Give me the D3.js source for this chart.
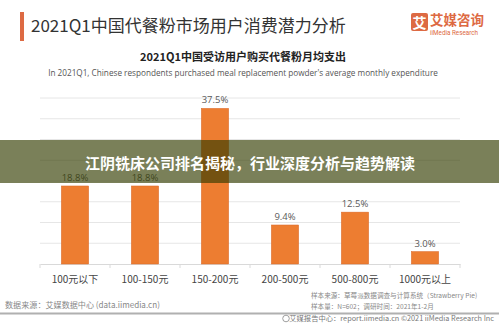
<!DOCTYPE html>
<html><head><meta charset="utf-8">
<script src="https://cdn.jsdelivr.net/npm/d3@7"></script>
<style>
html,body{margin:0;padding:0;background:#fff;}
svg{display:block;font-family:"Noto Sans CJK SC","Noto Sans",sans-serif;}
</style></head>
<body>
<svg id="c" width="499" height="325"></svg>
<script>
const categories = ["100元以下","100-150元","150-200元","200-500元","500-800元","1000元以上"];
const values = [18.8, 18.8, 37.5, 9.4, 12.5, 3.0];
const valueLabels = ["18.8%","18.8%","37.5%","9.4%","12.5%","3.0%"];
const yTicks = [0,5,10,15,20,25,30,35,40];

const mainTitle = "2021Q1中国代餐粉市场用户消费潜力分析";
const subTitle = "2021Q1中国受访用户购买代餐粉月均支出";
const enTitle = "In 2021Q1, Chinese respondents purchased meal replacement powder's average monthly expenditure";
const bannerText = "江阴铣床公司排名揭秘，行业深度分析与趋势解读";
const sourceLeft = "数据来源：艾媒数据中心 (data.iimedia.cn)";
const sampleSource = "样本来源：草莓派数据调查与计算系统（Strawberry Pie)";
const sampleSize = "样本量：N=602；调研时间：2021年1-2月";
const copyright = "艾媒报告中心：report.iimedia.cn   ©2021  iiMedia Research Inc";

const svg = d3.select("#c");
const accent = "#dd6a43";

// header
svg.append("rect").attr("x",20).attr("y",12).attr("width",4).attr("height",29).attr("fill",accent);
svg.append("text").attr("x",31).attr("y",32).attr("font-size",17).attr("fill","#333")
  .text(mainTitle);

// logo
svg.append("rect").attr("x",411).attr("y",13).attr("width",17).attr("height",18).attr("rx",2).attr("fill",accent);
svg.append("text").attr("x",419.5).attr("y",27.5).attr("text-anchor","middle").attr("font-size",14).attr("font-weight","bold").attr("fill","#fff").text("艾");
svg.append("text").attr("x",430).attr("y",25).attr("font-size",13.5).attr("font-weight","bold").attr("fill",accent).text("艾媒咨询");
svg.append("text").attr("x",430).attr("y",34.5).attr("font-size",6.3).attr("fill",accent).attr("font-family","Roboto, sans-serif").text("iiMedia Research");

svg.append("text").attr("x",243).attr("y",61).attr("text-anchor","middle").attr("font-size",11).attr("font-weight","bold").attr("fill","#222").text(subTitle);
svg.append("text").attr("x",243).attr("y",75.5).attr("text-anchor","middle").attr("font-size",8.2).attr("fill","#555").attr("font-family","'Open Sans','Noto Sans',sans-serif").text(enTitle);

// chart
const x = d3.scaleBand().domain(categories).range([40,460]).paddingInner(0.61).paddingOuter(0.305);
const y = d3.scaleLinear().domain([0,40]).range([264,98]);

const grid = svg.append("g");
grid.selectAll("line").data(yTicks.slice(1)).join("line")
  .attr("x1",40).attr("x2",460).attr("y1",d=>y(d)).attr("y2",d=>y(d))
  .attr("stroke","#e6e6e6").attr("stroke-width",1);

const xAxis = svg.append("g").attr("transform","translate(0,264)")
  .call(d3.axisBottom(x).tickSize(0).tickPadding(12));
xAxis.select(".domain").attr("stroke","#d9d9d9");
xAxis.selectAll("text").attr("font-size",10).attr("fill","#444").attr("font-family","'Noto Sans CJK SC',sans-serif");
// band boundary ticks
svg.append("g").selectAll("line").data(d3.range(categories.length+1)).join("line")
  .attr("x1",d=>40+d*x.step()).attr("x2",d=>40+d*x.step()).attr("y1",264).attr("y2",268)
  .attr("stroke","#d9d9d9");

svg.append("g").selectAll("rect").data(values).join("rect")
  .attr("x",(d,i)=>x(categories[i])).attr("width",x.bandwidth())
  .attr("y",d=>y(d)).attr("height",d=>y(0)-y(d))
  .attr("fill","#ed7d31").attr("stroke","#d9692a").attr("stroke-width",0.5);

svg.append("g").selectAll("text").data(values).join("text")
  .attr("x",(d,i)=>x(categories[i])+x.bandwidth()/2).attr("y",d=>y(d)-5)
  .attr("text-anchor","middle").attr("font-size",9.5).attr("fill","#595959")
  .attr("font-family","'Open Sans','Noto Sans',sans-serif")
  .text((d,i)=>valueLabels[i]);

// footer
svg.append("text").attr("x",5).attr("y",308).attr("font-size",8.1).attr("fill","#888").text(sourceLeft);
svg.append("text").attr("x",311).attr("y",298).attr("font-size",6.6).attr("fill","#888").text(sampleSource);
svg.append("text").attr("x",311).attr("y",309).attr("font-size",6.6).attr("fill","#888").text(sampleSize);
svg.append("rect").attr("x",0).attr("y",312.5).attr("width",499).attr("height",2).attr("fill","#b0b0b0");
svg.append("circle").attr("cx",286).attr("cy",318.5).attr("r",3.3).attr("fill","none").attr("stroke","#888").attr("stroke-width",0.8);
svg.append("text").attr("x",494).attr("y",321).attr("text-anchor","end").attr("font-size",7.3).attr("fill","#777").text(copyright);

// banner overlay
svg.append("rect").attr("x",0).attr("y",140).attr("width",499).attr("height",43).attr("fill","rgba(51,60,0,0.65)");
svg.append("text").attr("x",250).attr("y",168.5).attr("text-anchor","middle").attr("font-size",15).attr("font-weight","bold").attr("fill","#fff").text(bannerText);
</script>
</body></html>
